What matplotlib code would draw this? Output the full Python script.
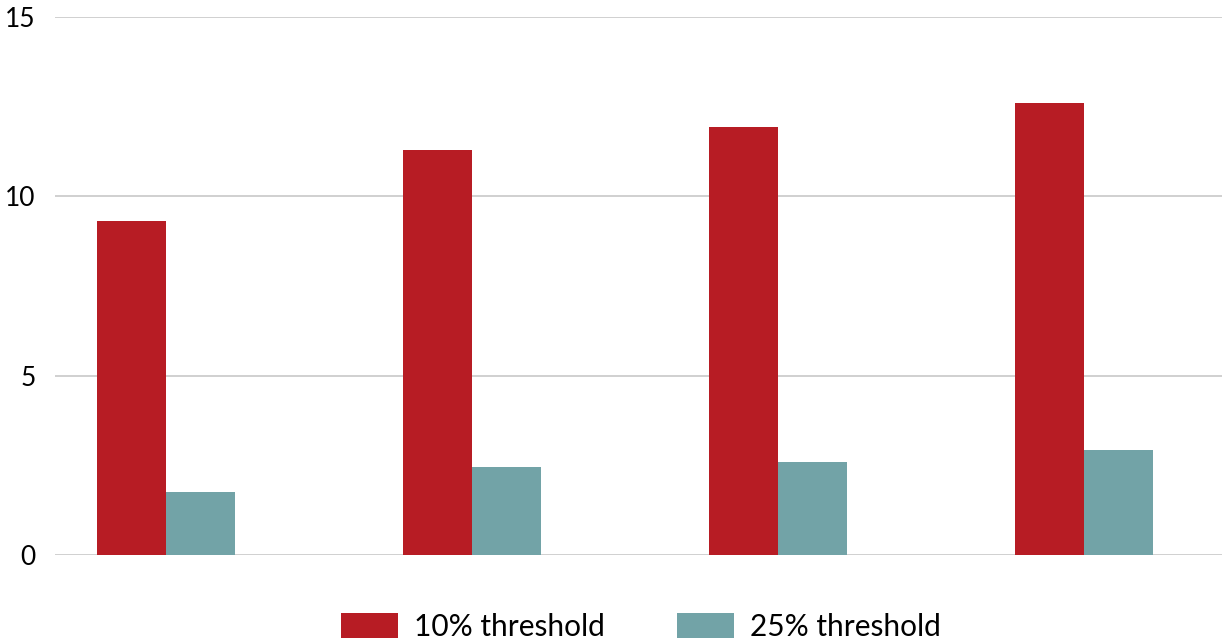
import matplotlib.pyplot as plt
import numpy as np

# Datos
grupos = ["A", "B", "C", "D"]
umbral_10 = [9.31, 11.29, 11.93, 12.60]
umbral_25 = [1.76, 2.45, 2.59, 2.93]
series = ["10% threshold", "25% threshold"]
colores = ["#b71c24", "#72a3a7"]

plt.rcParams["font.family"] = ["Lato", "DejaVu Sans"]

fig = plt.figure(figsize=(12.22, 6.41), dpi=100)
ax = fig.add_axes([55 / 1222, 86 / 641, 1 - 55 / 1222, (555 - 17) / 641])

x = np.arange(len(grupos))
ancho = 0.225
ax.bar(x - ancho / 2, umbral_10, ancho, color=colores[0], label=series[0], zorder=3)
ax.bar(x + ancho / 2, umbral_25, ancho, color=colores[1], label=series[1], zorder=3)

ax.set_ylim(0, 15)
ax.set_xlim(-0.363, 3.45)
ax.set_yticks([0, 5, 10, 15])
ax.set_xticks([])
ax.grid(axis="y", color="#c8c8c8", linewidth=1.2, zorder=0)
for s in ax.spines.values():
    s.set_visible(False)
ax.tick_params(axis="y", length=0, labelsize=19, pad=14)

fig.legend(loc="center", bbox_to_anchor=(0.5245, 0.022), ncol=2, frameon=False,
           fontsize=21.5, handlelength=1.9, handleheight=0.9, handletextpad=0.55,
           columnspacing=2.4)

fig.savefig("out.png", dpi=100)
